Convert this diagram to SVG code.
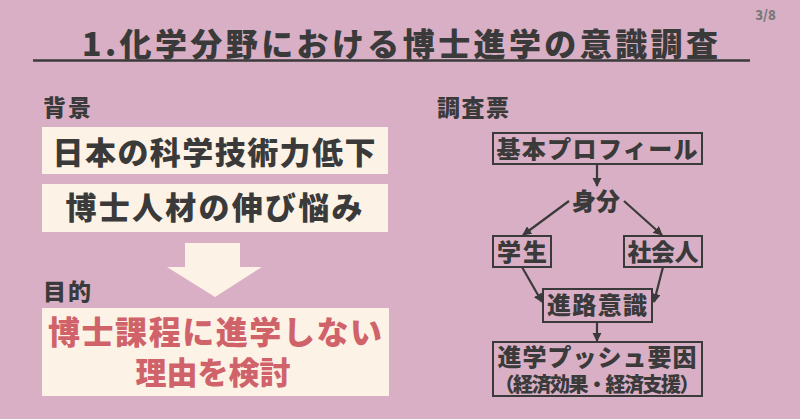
<svg xmlns="http://www.w3.org/2000/svg" width="800" height="419" viewBox="0 0 800 419">
<defs>
<style>
text{font-family:"Noto Sans CJK JP","Noto Sans CJK SC",sans-serif;font-weight:900;fill:#3a3a3a}
.box{fill:#fdf2e6}
.fb{fill:none;stroke:#3a3a3a;stroke-width:2}
.con{fill:none;stroke:#3a3a3a;stroke-width:2.2}
.red{fill:#d0626a}
</style>
<marker id="ah" viewBox="0 0 10 10" refX="9" refY="5" markerWidth="4.2" markerHeight="4.2" orient="auto" markerUnits="strokeWidth">
<path d="M0,0 L10,5 L0,10 z" fill="#3a3a3a"/>
</marker>
</defs>
<rect width="800" height="419" fill="#d8afc4"/>
<g id="page"><text x="776" y="20" font-size="13" text-anchor="end" style="fill:#7a7a7a">3/8</text></g>
<g id="title">
<text x="400" y="56" font-size="32" text-anchor="middle" textLength="636" lengthAdjust="spacing">1.化学分野における博士進学の意識調査</text>
<line x1="33" y1="60.5" x2="750" y2="60.5" stroke="#3a3a3a" stroke-width="2.5"/>
</g>
<g id="haikei-label"><text x="43" y="116" font-size="23" textLength="48" lengthAdjust="spacing">背景</text></g>
<g id="bg1">
<rect class="box" x="42" y="127" width="346" height="47"/>
<text x="214" y="164" font-size="31" text-anchor="middle" textLength="323" lengthAdjust="spacing">日本の科学技術力低下</text>
</g>
<g id="bg2">
<rect class="box" x="42" y="184" width="346" height="48"/>
<text x="214" y="219" font-size="31" text-anchor="middle" textLength="297" lengthAdjust="spacing">博士人材の伸び悩み</text>
</g>
<g id="bigarrow"><path class="box" d="M185,243 H240 V267 H262 L215,297 L167,267 H185 Z"/></g>
<g id="mokuteki-label"><text x="43" y="300" font-size="23" textLength="48" lengthAdjust="spacing">目的</text></g>
<g id="purpose">
<rect class="box" x="42" y="308" width="347" height="88"/>
<text class="red" x="215" y="344" font-size="32" text-anchor="middle" textLength="334" lengthAdjust="spacing">博士課程に進学しない</text>
<text class="red" x="213" y="384" font-size="31" text-anchor="middle" textLength="155" lengthAdjust="spacing">理由を検討</text>
</g>
<g id="chousa-label"><text x="437" y="116" font-size="23" textLength="72" lengthAdjust="spacing">調査票</text></g>
<g id="profile">
<rect class="fb" x="493" y="133" width="209" height="31"/>
<text x="597" y="157.5" font-size="24" text-anchor="middle" textLength="201" lengthAdjust="spacing">基本プロフィール</text>
</g>
<g id="mibun"><text x="596" y="210" font-size="24" text-anchor="middle" textLength="48" lengthAdjust="spacing">身分</text></g>
<g id="student">
<rect class="fb" x="493" y="236" width="58" height="31"/>
<text x="522" y="260.5" font-size="24" text-anchor="middle" textLength="50" lengthAdjust="spacing">学生</text>
</g>
<g id="worker">
<rect class="fb" x="624" y="236" width="78" height="31"/>
<text x="663" y="260.5" font-size="24" text-anchor="middle" textLength="71" lengthAdjust="spacing">社会人</text>
</g>
<g id="shinro">
<rect class="fb" x="543" y="289" width="109" height="33"/>
<text x="597" y="314" font-size="24" text-anchor="middle" textLength="100" lengthAdjust="spacing">進路意識</text>
</g>
<g id="push">
<rect class="fb" x="493" y="342" width="209" height="54"/>
<text x="597" y="366" font-size="24" text-anchor="middle" textLength="199" lengthAdjust="spacing">進学プッシュ要因</text>
<text x="597" y="392" font-size="20" text-anchor="middle" textLength="205" lengthAdjust="spacing">（経済効果・経済支援）</text>
</g>
<g id="connectors">
<line class="con" x1="597" y1="164" x2="597" y2="186" marker-end="url(#ah)"/>
<line class="con" x1="569" y1="201" x2="523" y2="235" marker-end="url(#ah)"/>
<line class="con" x1="624" y1="201" x2="662" y2="235" marker-end="url(#ah)"/>
<line class="con" x1="522" y1="267" x2="542" y2="302" marker-end="url(#ah)"/>
<line class="con" x1="663" y1="267" x2="654" y2="302" marker-end="url(#ah)"/>
<line class="con" x1="597" y1="322" x2="597" y2="341" marker-end="url(#ah)"/>
</g>
</svg>
